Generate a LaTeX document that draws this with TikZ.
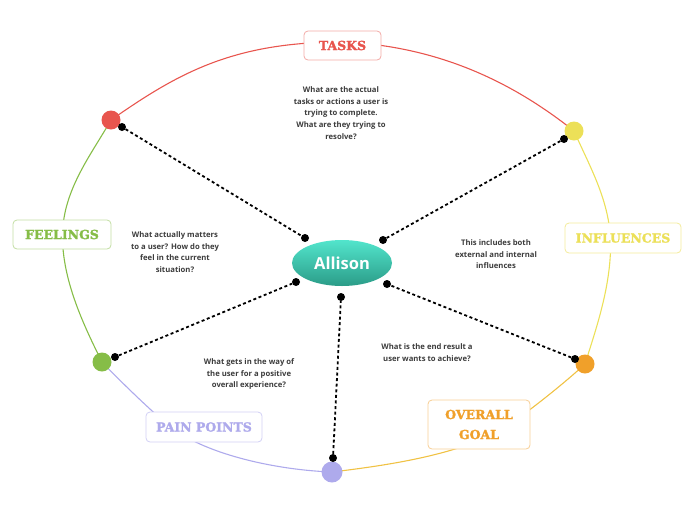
\documentclass[tikz,border=0pt]{standalone}
\usepackage{fontspec}
\setmainfont{Open Sans}
\newfontfamily\slabfont[FakeBold=1.6]{DejaVu Serif}
\usetikzlibrary{shapes.geometric}
\definecolor{cred}{HTML}{E8554E}
\definecolor{cyel}{HTML}{ECE058}
\definecolor{cora}{HTML}{F0A02A}
\definecolor{cgold}{HTML}{F0C244}
\definecolor{cpur}{HTML}{AEAAEC}
\definecolor{cgrn}{HTML}{86BD47}
\definecolor{txt}{HTML}{3C3C3C}
\definecolor{tealtop}{HTML}{52E5CC}
\definecolor{tealbot}{HTML}{2B9C88}
\tikzset{
  x=1pt,y=-1pt,
  rim/.style={line width=1.1pt},
  hub/.style={circle,inner sep=0pt,minimum size=19pt},
  dot/.style={circle,fill=black,inner sep=0pt,minimum size=8pt},
  link/.style={line width=1.8pt,dash pattern=on 3pt off 2.6pt},
  tag/.style={draw,fill=white,rounded corners=4pt,line width=0.8pt,font=\slabfont\bfseries\fontsize{12.5}{20}\selectfont,align=center,inner sep=0pt},
  note/.style={align=center,text=txt,font=\bfseries\fontsize{7.7}{11.6}\selectfont}
}
\begin{document}
\begin{tikzpicture}
\useasboundingbox (0,0) rectangle (696,520);
% hubs on rim
\node[hub] (rc) at (111,120) {};
\node[hub] (yc) at (574,131) {};
\node[hub] (oc) at (585,364) {};
\node[hub,minimum size=21pt] (pc) at (332,472) {};
\node[hub] (gc) at (102,362) {};
% rim way points
\coordinate (tp) at (342,42);
\coordinate (ip) at (610.5,238);
\coordinate (gp) at (497,432);
\coordinate (pp) at (172,428);
\coordinate (fp) at (62.5,235);
% rim segments
\draw[rim,cred] (rc.center) .. controls (177,74) and (232,42) .. (tp)
  .. controls (445,46) and (520,88) .. (yc.center);
\draw[rim,cyel] (yc.center) .. controls (590,167) and (608,198) .. (ip)
  .. controls (612,283) and (597,326) .. (oc.center);
\draw[rim,cgold] (oc.center) .. controls (567,381) and (519,420) .. (gp)
  .. controls (453,456) and (382,466) .. (pc.center);
\draw[rim,cpur] (pc.center) .. controls (277,470) and (208,455) .. (pp)
  .. controls (156,416) and (116,377) .. (gc.center);
\draw[rim,cgrn] (gc.center) .. controls (84,326) and (62,280) .. (fp)
  .. controls (63,190) and (91,155) .. (rc.center);
% hub fills
\fill[cred] (rc) circle (9.5);
\fill[cyel] (yc) circle (9.5);
\fill[cora] (oc) circle (9.5);
\fill[cpur] (pc) circle (10.5);
\fill[cgrn] (gc) circle (9.5);
% tags
\node[tag,draw=cred!50,text=cred,minimum width=77pt,minimum height=29pt] (tasks) at (342.5,45.5) {TASKS};
\node[tag,draw=cgrn!50,text=cgrn,minimum width=98pt,minimum height=29pt] (feel) at (62,234.5) {FEELINGS};
\node[tag,draw=cyel!60,text=cyel,minimum width=116pt,minimum height=30pt] (infl) at (623,238) {INFLUENCES};
\node[tag,draw=cpur!55,text=cpur,minimum width=116pt,minimum height=30pt] (pain) at (204,427) {PAIN POINTS};
\node[tag,draw=cora!50,text=cora,minimum width=102pt,minimum height=49pt] (goal) at (479,424.5) {OVERALL\\GOAL};
% center
\node[ellipse,minimum width=100pt,minimum height=46pt,top color=tealtop,bottom color=tealbot,draw=none,text=white,font=\bfseries\fontsize{16.5}{18}\selectfont] (allison) at (342,263) {Allison};
% dots
\node[dot] (d1a) at (122,127) {};
\node[dot] (d1b) at (305,238) {};
\node[dot] (d2a) at (564,139) {};
\node[dot] (d2b) at (383,240) {};
\node[dot] (d3a) at (115,357) {};
\node[dot] (d3b) at (296,282) {};
\node[dot] (d4a) at (575,359) {};
\node[dot] (d4b) at (387,284) {};
\node[dot] (d5a) at (333,458) {};
\node[dot] (d5b) at (341,297) {};
\draw[link] (d1a) -- (d1b);
\draw[link] (d2a) -- (d2b);
\draw[link] (d3a) -- (d3b);
\draw[link] (d4a) -- (d4b);
\draw[link] (d5a) -- (d5b);
% notes
\node[note] (n1) at (341,113) {What are the actual\\tasks or actions a user is\\trying to complete.\\What are they trying to\\resolve?};
\node[note] (n2) at (175,252) {What actually matters\\to a user? How do they\\feel in the current\\situation?};
\node[note] (n3) at (496,254.5) {This includes both\\external and internal\\influences};
\node[note] (n4) at (427,352.5) {What is the end result a\\user wants to achieve?};
\node[note] (n5) at (249,374) {What gets in the way of\\the user for a positive\\overall experience?};
\end{tikzpicture}
\end{document}
